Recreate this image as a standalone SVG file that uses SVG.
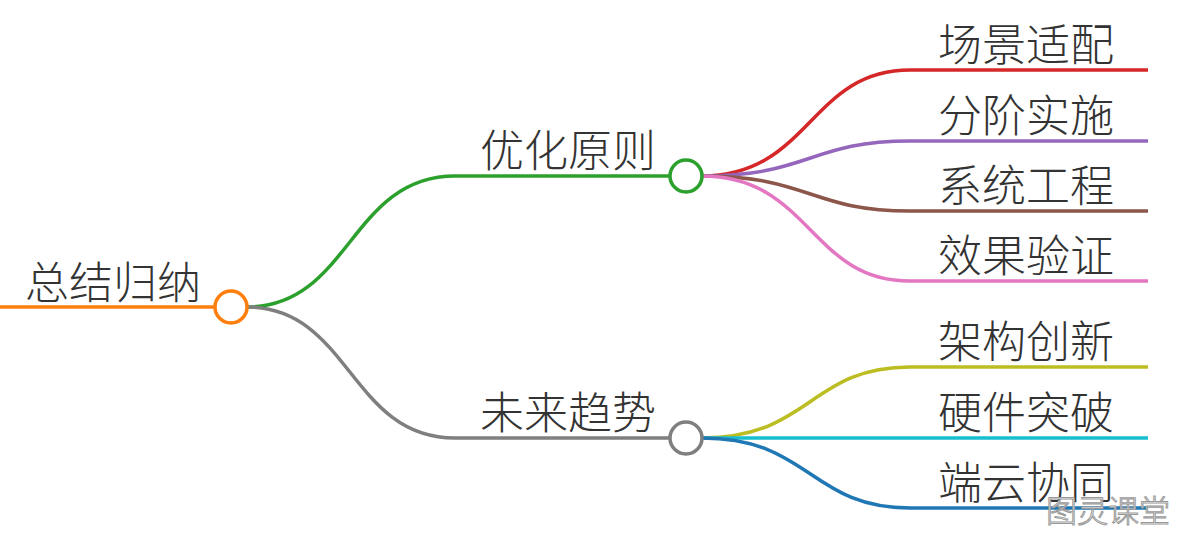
<svg xmlns="http://www.w3.org/2000/svg" width="1189" height="535" viewBox="0 0 1189 535">
<style>
text{font-family:"Noto Sans CJK SC","Noto Sans",sans-serif;font-weight:300;font-size:44px;fill:#333}
path{fill:none;stroke-width:3.5}
circle{fill:#fff;stroke-width:3.5}
</style>
<rect width="1189" height="535" fill="#fff"/>
<g id="connectors">
<path d="M0 307H215" stroke="#ff7f0e"/>
<path d="M247 307C350 307 350 176 455 176H670" stroke="#2ca02c"/>
<path d="M247 307C350 307 350 438 455 438H670" stroke="#7f7f7f"/>
<path d="M702 176C810 176 810 70 910 70H1148" stroke="#d62728"/>
<path d="M702 176C810 176 810 141 910 141H1148" stroke="#9467bd"/>
<path d="M702 176C810 176 810 211 910 211H1148" stroke="#8c564b"/>
<path d="M702 176C810 176 810 281 910 281H1148" stroke="#e377c2"/>
<path d="M702 438C810 438 810 367 910 367H1148" stroke="#bcbd22"/>
<path d="M702 438H1148" stroke="#17becf"/>
<path d="M702 438C810 438 810 508 910 508H1148" stroke="#1f77b4"/>
</g>
<g id="root"><circle cx="231" cy="307" r="16" stroke="#ff7f0e"/><text x="25" y="299">总结归纳</text></g>
<g id="n1"><circle cx="686" cy="176" r="16" stroke="#2ca02c"/><text x="480" y="167">优化原则</text></g>
<g id="n2"><circle cx="686" cy="438" r="16" stroke="#7f7f7f"/><text x="480" y="429">未来趋势</text></g>
<g id="l1"><text x="938" y="61">场景适配</text></g>
<g id="l2"><text x="938" y="132">分阶实施</text></g>
<g id="l3"><text x="938" y="202">系统工程</text></g>
<g id="l4"><text x="938" y="272">效果验证</text></g>
<g id="l5"><text x="938" y="358">架构创新</text></g>
<g id="l6"><text x="938" y="429">硬件突破</text></g>
<g id="l7"><text x="938" y="499">端云协同</text></g>
<text x="1046" y="522" style="font-size:31px;fill:#fff;stroke:#999;stroke-width:1">图灵课堂</text>
</svg>
